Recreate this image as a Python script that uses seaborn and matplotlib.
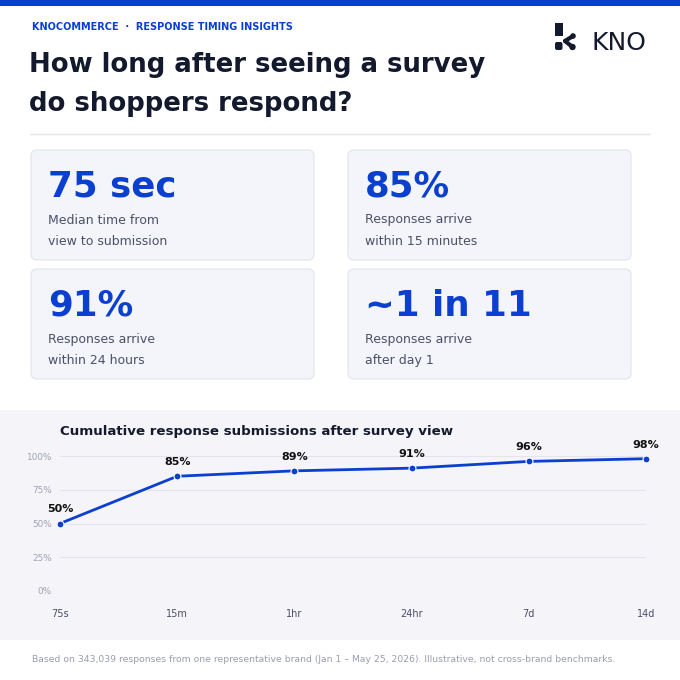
import matplotlib
matplotlib.use("Agg")
import matplotlib.pyplot as plt
from matplotlib.patches import FancyBboxPatch, Rectangle, Circle
import numpy as np
import pandas as pd
import seaborn as sns

# chart data
time_labels = ["75s", "15m", "1hr", "24hr", "7d", "14d"]
cumulative_pct = [50, 85, 89, 91, 96, 98]
y_ticks = [0, 25, 50, 75, 100]

# stat cards
card_values = ["75 sec", "85%", "91%", "~1 in 11"]
card_lines = [
    ["Median time from", "view to submission"],
    ["Responses arrive", "within 15 minutes"],
    ["Responses arrive", "within 24 hours"],
    ["Responses arrive", "after day 1"],
]

BLUE = "#0a3fd0"
DARK = "#141a2e"
GRAY = "#4b5066"
LIGHT = "#9a9db0"

sns.set_theme(style="white")
plt.rcParams["font.family"] = ["DejaVu Sans"]

W, H = 680, 680
fig = plt.figure(figsize=(6.8, 6.8), dpi=100)
fig.patch.set_facecolor("white")

# full-figure canvas in pixel coordinates
bg = fig.add_axes([0, 0, 1, 1], zorder=0)
bg.set_xlim(0, W)
bg.set_ylim(H, 0)
bg.axis("off")

bg.add_patch(Rectangle((0, 0), W, 6, color=BLUE, lw=0))

bg.text(32, 30.5, "KNOCOMMERCE  ·  RESPONSE TIMING INSIGHTS", color=BLUE,
        fontsize=7.0, fontweight="bold", va="baseline")
bg.text(29, 72, "How long after seeing a survey", color=DARK,
        fontsize=18.7, fontweight="bold", va="baseline")
bg.text(29, 111, "do shoppers respond?", color=DARK,
        fontsize=18.7, fontweight="bold", va="baseline")

# logo
bg.add_patch(Rectangle((555, 22.5), 7.5, 13.5, color=DARK, lw=0))
bg.add_patch(FancyBboxPatch((555.5, 42.5), 6.5, 7, boxstyle="round,pad=0.5,rounding_size=2",
                            color=DARK, lw=0))
bg.plot([565, 573], [41, 36], color=DARK, lw=3, solid_capstyle="round")
bg.plot([565, 572.5], [41, 47], color=DARK, lw=3, solid_capstyle="round")
bg.add_patch(Circle((573, 36), 2.8, color=DARK, lw=0))
bg.add_patch(Circle((572.5, 47), 3.2, color=DARK, lw=0))
bg.text(592, 50, "KNO", color=DARK, fontsize=18, va="baseline")

bg.plot([30, 650], [134, 134], color="#e3e4ea", lw=1)

# cards
card_x = [31, 348, 31, 348]
card_y = [150, 150, 269, 269]
for i, (val, lines) in enumerate(zip(card_values, card_lines)):
    x0, y0 = card_x[i], card_y[i]
    bg.add_patch(FancyBboxPatch((x0, y0), 283, 110,
                                boxstyle="round,pad=0,rounding_size=6",
                                facecolor="#f4f5fa", edgecolor="#e4e6f0", lw=0.9))
    bg.text(x0 + 17, y0 + 46.5, val, color=BLUE, fontsize=25.7,
            fontweight="bold", va="baseline")
    bg.text(x0 + 17, y0 + 73.5, lines[0], color=GRAY, fontsize=9, va="baseline")
    bg.text(x0 + 17, y0 + 95, lines[1], color=GRAY, fontsize=9, va="baseline")

# chart panel
bg.add_patch(Rectangle((0, 410), W, 230, color="#f4f4f9", lw=0))
bg.text(60, 435, "Cumulative response submissions after survey view", color=DARK,
        fontsize=9.6, fontweight="bold", va="baseline")

bg.text(32, 661.5, "Based on 343,039 responses from one representative brand "
        "(Jan 1 – May 25, 2026). Illustrative, not cross-brand benchmarks.",
        color=LIGHT, fontsize=6.7, va="baseline")

# line chart
ax = fig.add_axes([60 / W, 1 - 591 / H, 586 / W, 135 / H], zorder=1)
ax.set_facecolor("none")
df = pd.DataFrame({"pos": np.arange(len(time_labels)), "pct": cumulative_pct})
sns.lineplot(data=df, x="pos", y="pct", ax=ax, color=BLUE, linewidth=2,
             marker="o", markersize=5, markeredgecolor="white",
             markeredgewidth=0.8, clip_on=False)
for p, v in zip(df["pos"], df["pct"]):
    ax.annotate(f"{v}%", (p, v), xytext=(0, 8), textcoords="offset points",
                ha="center", va="baseline", fontsize=8, fontweight="bold",
                color="#111111", annotation_clip=False)

ax.set_xlim(0, len(time_labels) - 1)
ax.set_ylim(0, 100)
ax.set_xticks(df["pos"])
ax.set_xticklabels(time_labels)
ax.set_yticks(y_ticks)
ax.set_yticklabels([f"{t}%" for t in y_ticks])
ax.tick_params(axis="x", length=0, pad=13, labelsize=7, labelcolor=GRAY)
ax.tick_params(axis="y", length=0, pad=6, labelsize=6.4, labelcolor="#a0a3b5")
ax.grid(axis="y", color="#e3e4ec", linewidth=0.8)
ax.set_axisbelow(True)
ax.set_xlabel("")
ax.set_ylabel("")
for s in ax.spines.values():
    s.set_visible(False)

fig.savefig("out.png", dpi=100, facecolor="white")
